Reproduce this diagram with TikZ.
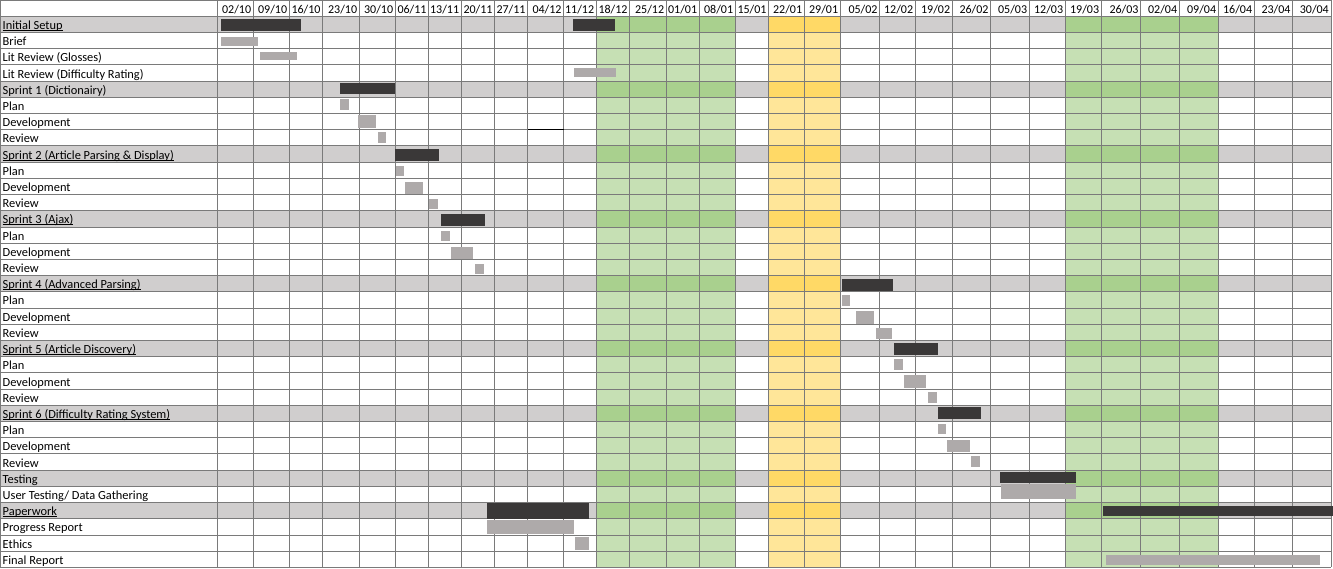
\documentclass[tikz,border=0pt]{standalone}
\usepackage{fontspec}
\setmainfont{Carlito}
\definecolor{gridc}{HTML}{7A7A7A}
\definecolor{secgrey}{HTML}{D0CECE}
\definecolor{grnlt}{HTML}{C6E0B4}
\definecolor{grndk}{HTML}{A9D08E}
\definecolor{yellt}{HTML}{FFE699}
\definecolor{yeldk}{HTML}{FFD966}
\definecolor{bardk}{HTML}{3A3838}
\definecolor{barlt}{HTML}{AEAAAA}
% underline that sits just under the baseline
\newcommand\ulabel[1]{\setbox0\hbox{#1}\rlap{\rule[-1.3pt]{\wd0}{0.75pt}}\box0}
% baseline of the text in row #1
\newcommand\bl[1]{16.2+(#1+1)*16.21-3.0}
\begin{document}
\begin{tikzpicture}[x=1pt,y=-1pt,
  gridline/.style={draw=gridc,line width=0.8pt},
  lbl/.style={anchor=base west,inner sep=0pt,font=\fontsize{12.4}{14}\selectfont},
  datelbl/.style={anchor=base east,inner sep=0pt,font=\fontsize{12}{14}\selectfont},
  darkbar/.style={fill=bardk},
  lightbar/.style={fill=barlt}]
\useasboundingbox (0,0) rectangle (1333,569);
\fill[white] (0,0) rectangle (1333,569);

% grey summary rows
\foreach \r in {0,4,8,12,16,20,24,28,30}
  \fill[secgrey] (0,{16.2+\r*16.21}) rectangle (1331,{16.2+(\r+1)*16.21});

% holiday and exam bands
\foreach \a/\b in {596.3/735.3,1065.3/1218.3}
  \fill[grnlt] (\a,16.2) rectangle (\b,567.3);
\fill[yellt] (768.7,16.2) rectangle (840.3,567.3);
\foreach \r in {0,4,8,12,16,20,24,28,30}{
  \foreach \a/\b in {596.3/735.3,1065.3/1218.3}
    \fill[grndk] (\a,{16.2+\r*16.21}) rectangle (\b,{16.2+(\r+1)*16.21});
  \fill[yeldk] (768.7,{16.2+\r*16.21}) rectangle (840.3,{16.2+(\r+1)*16.21});
}

% grid
\draw[gridline] (0,0.5) -- (1331,0.5);
\foreach \r in {0,...,34}
  \draw[gridline] (0,{16.2+\r*16.21}) -- (1331,{16.2+\r*16.21});
\foreach \x in {0.5,217.3,253.3,289.3,322.7,359.3,395.3,428.7,461.3,494.7,527.7,563.7,596.3,629.7,666.3,699.3,735.3,768.7,804.3,840.3,879.7,915.3,952.3,990.7,1029.3,1065.3,1101.3,1140.7,1179.3,1218.3,1254.3,1292.7,1331}
  \draw[gridline] (\x,0.5) -- (\x,567.3);
\draw[black,line width=0.8pt] (527.7,129.7) -- (563.7,129.7);

% week headings
\foreach \r/\d/\m [count=\k] in {253.3/02/10,289.3/09/10,322.7/16/10,359.3/23/10,395.3/30/10,428.7/06/11,461.3/13/11,494.7/20/11,527.7/27/11,563.7/04/12,596.3/11/12,629.7/18/12,666.3/25/12,699.3/01/01,735.3/08/01,768.7/15/01,804.3/22/01,840.3/29/01,879.7/05/02,915.3/12/02,952.3/19/02,990.7/26/02,1029.3/05/03,1065.3/12/03,1101.3/19/03,1140.7/26/03,1179.3/02/04,1218.3/09/04,1254.3/16/04,1292.7/23/04,1331/30/04}
  \node[datelbl] (d\k) at (\r-2,13.8) {\d/\m};

% task names
\node[lbl] (t0)  at (2.5,{\bl{0}})  {\ulabel{Initial Setup}};
\node[lbl] (t1)  at (2.5,{\bl{1}})  {Brief};
\node[lbl] (t2)  at (2.5,{\bl{2}})  {Lit Review (Glosses)};
\node[lbl] (t3)  at (2.5,{\bl{3}})  {Lit Review (Difficulty Rating)};
\node[lbl] (t4)  at (2.5,{\bl{4}})  {Sprint 1 (Dictionairy)};
\node[lbl] (t5)  at (2.5,{\bl{5}})  {Plan};
\node[lbl] (t6)  at (2.5,{\bl{6}})  {Development};
\node[lbl] (t7)  at (2.5,{\bl{7}})  {Review};
\node[lbl] (t8)  at (2.5,{\bl{8}})  {\ulabel{Sprint 2 (Article Parsing \& Display)}};
\node[lbl] (t9)  at (2.5,{\bl{9}})  {Plan};
\node[lbl] (t10) at (2.5,{\bl{10}}) {Development};
\node[lbl] (t11) at (2.5,{\bl{11}}) {Review};
\node[lbl] (t12) at (2.5,{\bl{12}}) {\ulabel{Sprint 3 (Ajax)}};
\node[lbl] (t13) at (2.5,{\bl{13}}) {Plan};
\node[lbl] (t14) at (2.5,{\bl{14}}) {Development};
\node[lbl] (t15) at (2.5,{\bl{15}}) {Review};
\node[lbl] (t16) at (2.5,{\bl{16}}) {\ulabel{Sprint 4 (Advanced Parsing)}};
\node[lbl] (t17) at (2.5,{\bl{17}}) {Plan};
\node[lbl] (t18) at (2.5,{\bl{18}}) {Development};
\node[lbl] (t19) at (2.5,{\bl{19}}) {Review};
\node[lbl] (t20) at (2.5,{\bl{20}}) {\ulabel{Sprint 5 (Article Discovery)}};
\node[lbl] (t21) at (2.5,{\bl{21}}) {Plan};
\node[lbl] (t22) at (2.5,{\bl{22}}) {Development};
\node[lbl] (t23) at (2.5,{\bl{23}}) {Review};
\node[lbl] (t24) at (2.5,{\bl{24}}) {\ulabel{Sprint 6 (Difficulty Rating System)}};
\node[lbl] (t25) at (2.5,{\bl{25}}) {Plan};
\node[lbl] (t26) at (2.5,{\bl{26}}) {Development};
\node[lbl] (t27) at (2.5,{\bl{27}}) {Review};
\node[lbl] (t28) at (2.5,{\bl{28}}) {Testing};
\node[lbl] (t29) at (2.5,{\bl{29}}) {User Testing/ Data Gathering};
\node[lbl] (t30) at (2.5,{\bl{30}}) {\ulabel{Paperwork}};
\node[lbl] (t31) at (2.5,{\bl{31}}) {Progress Report};
\node[lbl] (t32) at (2.5,{\bl{32}}) {Ethics};
\node[lbl] (t33) at (2.5,{\bl{33}}) {Final Report};

% phase bars
\foreach \xa/\ya/\xb/\yb in {221/19/301/31, 573.3/19/615/31, 340.3/83/395.3/94.3,
  395.3/149.3/438.7/160.7, 441.3/214/484.7/225.7, 842/279.3/893.3/290.7,
  894/343/937.7/354.7, 937.7/407.3/981/418.7, 1000.3/472/1076/482.7,
  487.3/503/589.3/519, 1102.7/505.7/1333/515.7}
  \fill[darkbar] (\xa,\ya) rectangle (\xb,\yb);

% task bars
\foreach \xa/\ya/\xb/\yb in {221/37/258.3/45.7, 260/51.7/297/60, 574.3/67.7/616/76.7,
  340.3/99.3/349.3/109.7, 358.3/115.3/375.7/127.7, 377.7/132.3/386/143.3,
  396/166/404/176, 405.3/182.3/422.7/194, 429/199.3/438/209.3,
  441.3/230.7/449.7/241, 451/247/473.3/259, 475.3/264/483.7/274,
  842/295.3/850.3/305.7, 856.3/311.3/873.7/324, 875.7/328.3/892.3/339,
  894/359.3/902.7/370, 903.7/375.3/926.3/388, 928/392.3/936.7/403,
  937.7/423.7/946.3/434, 947.3/439.7/969.7/451.7, 971.3/456.3/980.3/467,
  1001/484.3/1076/499.3, 487.3/520.3/574.3/533.7, 575/537/589.3/550,
  1106/554.7/1320/565.3}
  \fill[lightbar] (\xa,\ya) rectangle (\xb,\yb);
\end{tikzpicture}
\end{document}
